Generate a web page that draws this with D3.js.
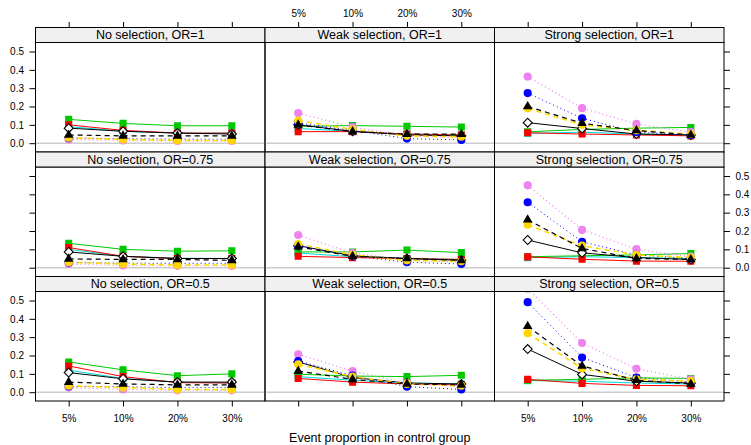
<!DOCTYPE html>
<html>
<head>
<meta charset="utf-8">
<script src="https://cdn.jsdelivr.net/npm/d3@7"></script>
<style>
    body { margin: 0; background: #fff; }
    text { font-family: "Liberation Sans", Arial, sans-serif; fill: #000; }
</style>
</head>
<body>
<div id="chart"></div>
<script>
// categories
const proportions = ["5%", "10%", "20%", "30%"];
const selections = ["No selection", "Weak selection", "Strong selection"];
const oddsRatios = ["1", "0.75", "0.5"];
const yTicks = [0, 0.1, 0.2, 0.3, 0.4, 0.5];

// series values, one row of 4 per panel
// panel order: OR=1 (no, weak, strong), OR=0.75 (...), OR=0.5 (...)
const cyanSquares = [
    [0.09, 0.065, 0.055, 0.055], [0.08, 0.065, 0.05, 0.045], [0.053, 0.06, 0.05, 0.045],
    [0.10, 0.062, 0.052, 0.05], [0.08, 0.06, 0.05, 0.045], [0.055, 0.06, 0.055, 0.05],
    [0.12, 0.075, 0.055, 0.05], [0.085, 0.065, 0.05, 0.045], [0.063, 0.06, 0.05, 0.045]
];
const greenSquares = [
    [0.13, 0.108, 0.095, 0.095], [0.092, 0.096, 0.092, 0.088], [0.062, 0.075, 0.082, 0.086],
    [0.133, 0.10, 0.09, 0.092], [0.086, 0.086, 0.096, 0.082], [0.06, 0.065, 0.07, 0.077],
    [0.165, 0.122, 0.09, 0.10], [0.098, 0.088, 0.085, 0.092], [0.065, 0.07, 0.078, 0.075]
];
const redSquares = [
    [0.10, 0.07, 0.055, 0.055], [0.063, 0.063, 0.05, 0.045], [0.057, 0.05, 0.045, 0.04],
    [0.11, 0.062, 0.05, 0.05], [0.062, 0.055, 0.05, 0.045], [0.059, 0.046, 0.036, 0.035],
    [0.143, 0.085, 0.052, 0.05], [0.075, 0.055, 0.045, 0.04], [0.07, 0.048, 0.037, 0.035]
];
const openDiamonds = [
    [0.082, 0.065, 0.055, 0.05], [0.10, 0.065, 0.045, 0.04], [0.112, 0.08, 0.05, 0.045],
    [0.086, 0.062, 0.05, 0.05], [0.12, 0.065, 0.05, 0.04], [0.151, 0.081, 0.055, 0.045],
    [0.107, 0.073, 0.055, 0.055], [0.165, 0.08, 0.05, 0.045], [0.235, 0.097, 0.06, 0.05]
];
const violetDots = [
    [0.02, 0.015, 0.012, 0.012], [0.164, 0.088, 0.04, 0.03], [0.363, 0.191, 0.105, 0.06],
    [0.02, 0.012, 0.01, 0.01], [0.178, 0.08, 0.04, 0.03], [0.449, 0.206, 0.101, 0.06],
    [0.025, 0.015, 0.01, 0.01], [0.207, 0.115, 0.05, 0.03], [0.565, 0.268, 0.128, 0.07]
];
const blueDots = [
    [0.028, 0.025, 0.022, 0.022], [0.11, 0.07, 0.025, 0.018], [0.273, 0.136, 0.06, 0.045],
    [0.028, 0.025, 0.024, 0.024], [0.12, 0.065, 0.03, 0.02], [0.357, 0.141, 0.07, 0.05],
    [0.032, 0.03, 0.025, 0.025], [0.17, 0.09, 0.03, 0.015], [0.491, 0.189, 0.08, 0.055]
];
const goldDots = [
    [0.03, 0.02, 0.015, 0.015], [0.123, 0.075, 0.04, 0.035], [0.19, 0.10, 0.07, 0.05],
    [0.03, 0.02, 0.015, 0.015], [0.129, 0.07, 0.04, 0.035], [0.234, 0.12, 0.07, 0.055],
    [0.035, 0.025, 0.015, 0.015], [0.152, 0.085, 0.045, 0.035], [0.322, 0.13, 0.07, 0.06]
];
const blackTriangles = [
    [0.045, 0.04, 0.04, 0.04], [0.10, 0.063, 0.049, 0.049], [0.20, 0.109, 0.069, 0.045],
    [0.048, 0.045, 0.045, 0.04], [0.114, 0.062, 0.05, 0.04], [0.261, 0.105, 0.05, 0.045],
    [0.055, 0.045, 0.04, 0.04], [0.115, 0.07, 0.045, 0.04], [0.359, 0.143, 0.065, 0.045]
];

// drawing order = list order (later ones on top)
const seriesList = [
    {values: cyanSquares, color: "#00d8d8", dash: null, width: 1, shape: "square", fill: "#00d8d8"},
    {values: greenSquares, color: "#00c800", dash: null, width: 1, shape: "square", fill: "#00c800"},
    {values: redSquares, color: "#ff0000", dash: null, width: 1, shape: "square", fill: "#ff0000"},
    {values: openDiamonds, color: "#000", dash: null, width: 1, shape: "diamond", fill: "#fff"},
    {values: violetDots, color: "#ee82ee", dash: "1,3", width: 1.3, shape: "circle", fill: "#ee82ee"},
    {values: blueDots, color: "#0000ff", dash: "1,3", width: 1, shape: "circle", fill: "#0000ff"},
    {values: goldDots, color: "#ffd700", dash: "5,4", width: 1.6, shape: "circle", fill: "#ffd700"},
    {values: blackTriangles, color: "#000", dash: "5,4", width: 1.2, shape: "triangle", fill: "#000"}
];

class PanelGridVis {

    constructor(parentElement) {
        this.parentElement = parentElement;
        this.initVis();
    }

    initVis() {
        let vis = this;

        vis.width = 751;
        vis.height = 445;
        vis.left = 35.5;
        vis.top = 27.5;
        vis.panelW = 229.5;
        vis.panelH = 109.5;
        vis.stripH = 15;

        vis.svg = d3.select("#" + vis.parentElement)
            .append("svg")
            .attr("width", vis.width)
            .attr("height", vis.height);

        vis.yScale = d3.scaleLinear()
            .domain([-0.048, 0.549])
            .range([vis.panelH, 0]);

        vis.symbols = {
            square: d3.symbol(d3.symbolSquare, 50)(),
            circle: d3.symbol(d3.symbolCircle, 52)(),
            triangle: d3.symbol(d3.symbolTriangle, 40)(),
            diamond: d3.symbol(d3.symbolSquare, 40)()
        };

        vis.drawPanels();
        vis.drawAxes();

        // axis title
        vis.svg.append("text")
            .attr("x", vis.left + vis.panelW * 1.5)
            .attr("y", 442)
            .attr("text-anchor", "middle")
            .style("font-size", "12.5px")
            .text("Event proportion in control group");
    }

    panelPos(r, c) {
        let vis = this;
        let stripY = vis.top + r * (vis.stripH + vis.panelH);
        return {x: vis.left + c * vis.panelW, stripY: stripY, y: stripY + vis.stripH};
    }

    drawPanels() {
        let vis = this;

        vis.xScale = d3.scalePoint()
            .domain(proportions)
            .range([0, vis.panelW])
            .padding(0.61);

        const line = d3.line()
            .x((d, i) => vis.xScale(proportions[i]))
            .y(d => vis.yScale(d));

        oddsRatios.forEach((or, r) => {
            selections.forEach((sel, c) => {
                let idx = r * 3 + c;
                let pos = vis.panelPos(r, c);

                let g = vis.svg.append("g")
                    .attr("transform", `translate(${pos.x},${pos.y})`);

                g.append("clipPath")
                    .attr("id", "clip" + idx)
                    .append("rect")
                    .attr("width", vis.panelW)
                    .attr("height", vis.panelH);

                let inner = g.append("g").attr("clip-path", `url(#clip${idx})`);

                // zero reference line
                inner.append("line")
                    .attr("x1", 0).attr("x2", vis.panelW)
                    .attr("y1", vis.yScale(0)).attr("y2", vis.yScale(0))
                    .attr("stroke", "#cccccc")
                    .attr("stroke-width", 1.6);

                seriesList.forEach(s => {
                    let vals = s.values[idx];
                    inner.append("path")
                        .attr("d", line(vals))
                        .attr("fill", "none")
                        .attr("stroke", s.color)
                        .attr("stroke-width", s.width)
                        .attr("stroke-dasharray", s.dash);

                    inner.selectAll(null)
                        .data(vals)
                        .join("path")
                        .attr("d", vis.symbols[s.shape])
                        .attr("transform", (d, i) => `translate(${vis.xScale(proportions[i])},${vis.yScale(d)})`
                            + (s.shape === "diamond" ? " rotate(45)" : ""))
                        .attr("fill", s.fill)
                        .attr("stroke", s.shape === "diamond" ? "#000" : "none")
                        .attr("stroke-width", 1.1);
                });

                // panel border
                g.append("rect")
                    .attr("width", vis.panelW)
                    .attr("height", vis.panelH)
                    .attr("fill", "none")
                    .attr("stroke", "#000");

                // strip
                vis.svg.append("rect")
                    .attr("x", pos.x)
                    .attr("y", pos.stripY)
                    .attr("width", vis.panelW)
                    .attr("height", vis.stripH)
                    .attr("fill", "#f0f0f0")
                    .attr("stroke", "#000");

                vis.svg.append("text")
                    .attr("x", pos.x + vis.panelW / 2)
                    .attr("y", pos.stripY + 11.9)
                    .attr("text-anchor", "middle")
                    .style("font-size", "12.5px")
                    .text(`${sel}, OR=${or}`);
            });
        });
    }

    drawAxes() {
        let vis = this;
        let bottom = vis.panelPos(2, 0).y + vis.panelH;

        selections.forEach((sel, c) => {
            let x0 = vis.left + c * vis.panelW;

            let topAxis = d3.axisTop(vis.xScale)
                .tickSize(5.5).tickPadding(5)
                .tickFormat(c === 1 ? null : "");
            vis.styleAxis(vis.svg.append("g")
                .attr("transform", `translate(${x0},${vis.top})`)
                .call(topAxis));

            let bottomAxis = d3.axisBottom(vis.xScale)
                .tickSize(5.5).tickPadding(8.5)
                .tickFormat(c === 1 ? "" : null);
            vis.styleAxis(vis.svg.append("g")
                .attr("transform", `translate(${x0},${bottom})`)
                .call(bottomAxis));
        });

        oddsRatios.forEach((or, r) => {
            let y0 = vis.panelPos(r, 0).y;

            let leftAxis = d3.axisLeft(vis.yScale)
                .tickValues(yTicks)
                .tickSize(6).tickPadding(5.5)
                .tickFormat(r === 1 ? "" : d3.format(".1f"));
            vis.styleAxis(vis.svg.append("g")
                .attr("transform", `translate(${vis.left},${y0})`)
                .call(leftAxis));

            let rightAxis = d3.axisRight(vis.yScale)
                .tickValues(yTicks)
                .tickSize(6).tickPadding(5.5)
                .tickFormat(r === 1 ? d3.format(".1f") : "");
            vis.styleAxis(vis.svg.append("g")
                .attr("transform", `translate(${vis.left + 3 * vis.panelW},${y0})`)
                .call(rightAxis));
        });
    }

    styleAxis(g) {
        g.select(".domain").remove();
        g.selectAll(".tick line").attr("stroke", "#000");
        g.selectAll(".tick text")
            .style("font-size", "10px")
            .style("font-family", '"Liberation Sans", Arial, sans-serif')
            .attr("fill", "#000");
    }
}

new PanelGridVis("chart");
</script>
</body>
</html>
